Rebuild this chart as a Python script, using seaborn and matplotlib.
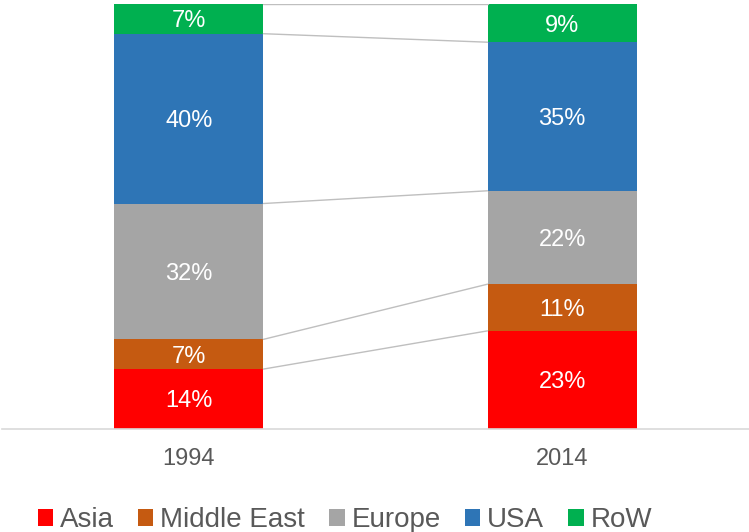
import matplotlib
matplotlib.use("Agg")
import matplotlib.pyplot as plt
from matplotlib.patches import Patch
import numpy as np
import pandas as pd
import seaborn as sns

years = ["1994", "2014"]
regions = ["Asia", "Middle East", "Europe", "USA", "RoW"]
asia = [14, 23]
middle_east = [7, 11]
europe = [32, 22]
usa = [40, 35]
row = [7, 9]

colors = ["#FF0000", "#C55A11", "#A5A5A5", "#2E75B6", "#00B050"]

sns.set_theme(style="white")
plt.rcParams["font.family"] = ["Liberation Sans", "DejaVu Sans"]

shares = np.array([asia, middle_east, europe, usa, row], dtype=float)
tops = np.cumsum(shares, axis=0)
bottoms = tops - shares

fig = plt.figure(figsize=(7.49, 5.32), dpi=100)
ax = fig.add_axes([2 / 749, (532 - 428.5) / 532, 747 / 749, 424.5 / 532])

# stacked bars: draw cumulative totals from the top segment down
for i in range(len(regions) - 1, -1, -1):
    df = pd.DataFrame({"year": years, "value": tops[i]})
    sns.barplot(data=df, x="year", y="value", color=colors[i], width=0.4,
                saturation=1, linewidth=0, ax=ax, errorbar=None)

# connectors between matching segment boundaries
half = 0.2
for i in range(len(regions)):
    ax.plot([0 + half, 1 - half], [tops[i][0], tops[i][1]],
            color="#BFBFBF", lw=1.0, zorder=1)

# value labels centred in each segment
for i in range(len(regions)):
    for j in range(len(years)):
        ax.text(j, bottoms[i][j] + shares[i][j] / 2, f"{int(shares[i][j])}%",
                ha="center", va="center_baseline", color="white", fontsize=17)

ax.set_xlim(-0.5, 1.5)
ax.set_ylim(0, 100)
ax.set_xlabel("")
ax.set_ylabel("")
ax.set_yticks([])
ax.tick_params(axis="x", length=0, pad=14, labelsize=17, labelcolor="#595959")
for side in ["top", "left", "right"]:
    ax.spines[side].set_visible(False)
ax.spines["bottom"].set_color("#D9D9D9")
ax.spines["bottom"].set_linewidth(1.2)

handles = [Patch(facecolor=c, edgecolor="none", label=r) for c, r in zip(colors, regions)]
leg = fig.legend(handles=handles, loc="center", bbox_to_anchor=(345 / 749, 1 - 520 / 532),
                 ncol=5, frameon=False, fontsize=20, handlelength=0.55, handleheight=0.55,
                 handletextpad=0.25, columnspacing=0.87, borderaxespad=0)
for t in leg.get_texts():
    t.set_color("#595959")

fig.savefig("out.png", dpi=100)
